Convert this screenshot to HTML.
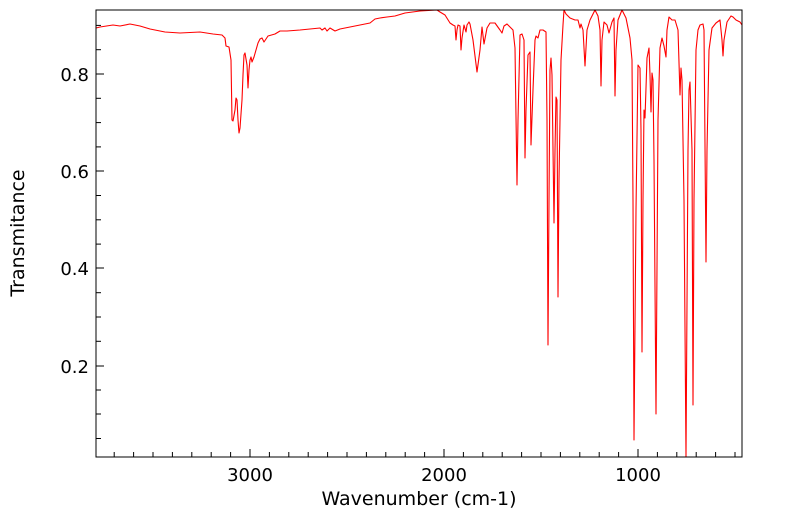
<!DOCTYPE html>
<html><head><meta charset="utf-8"><style>
body{margin:0;background:#fff;}
svg{display:block;font-family:"DejaVu Sans","Liberation Sans",sans-serif;}
</style></head><body>
<svg width="799" height="516" xmlns="http://www.w3.org/2000/svg">
<rect x="0" y="0" width="799" height="516" fill="#fff"/>
<polyline fill="none" stroke="#ff0000" stroke-width="1.1" stroke-linejoin="round" points="96,28 100,27 113,25 120,26 130,24 140,26 150,29 165,32 180,33 200,32 213,34 222,35 225,38 226,46 229,47 231,60 232,120 233,121 235,110 236,98 237,100 238,120 239,133 240,128 242,100 243,75 244,55 245,53 247,65 248,88 249,70 250,60 251,57 252,62 254,57 256,50 258,43 260,39 262,38 264,42 268,36 275,34 280,31 287,31 300,30 320,28 322,30 325,28 327,31 330,28 335,31 340,29 360,25 370,23 375,19 380,18 387,17 395,16 405,13 420,11 437,10 440,12 445,15 450,23 453,25 455,26 456,40 457,30 458,25 460,26 461,50 462,38 464,25 466,32 467,25 469,22 470,24 473,40 477,72 480,50 482,27 484,44 487,28 490,23 495,23 500,30 502,33 504,26 507,24 510,27 513,30 515,48 517,185 518,120 520,35 522,34 524,40 525,158 526,110 528,55 530,52 531,145 533,90 535,40 536,36 538,38 540,30 543,30 546,32 547,120 548,345 549,200 550,70 551,58 552,75 554,223 555,150 556,97 557,100 558,297 559,180 561,60 563,25 564,10 566,14 570,18 575,20 578,20 580,28 581,24 583,30 585,66 587,30 590,20 595,10 598,16 600,30 601,86 602,40 604,22 607,25 609,33 612,22 614,18 615,96 616,50 618,20 622,10 626,18 628,28 630,38 632,60 633,200 634,440 636,210 638,65 640,68 641,130 642,352 643,200 644,110 645,118 647,58 649,48 650,75 651,112 652,73 653,80 654,160 656,414 658,120 660,48 662,38 664,46 666,57 667,30 669,17 672,20 675,20 678,30 680,95 681,68 682,80 684,200 686,457 688,150 689,90 690,82 692,150 693,405 694,200 696,50 698,30 700,25 703,24 704,30 706,262 707,150 709,50 712,28 716,23 720,20 722,40 723,56 724,40 727,22 731,16 733,17 736,20 740,22 742,25"/>
<rect x="96" y="10" width="646" height="447" fill="none" stroke="#000" stroke-width="1"/>
<g stroke="#000" stroke-width="1">
<line x1="96" y1="74" x2="104" y2="74"/><line x1="96" y1="171" x2="104" y2="171"/><line x1="96" y1="268" x2="104" y2="268"/><line x1="96" y1="366" x2="104" y2="366"/>
<line x1="96" y1="25.4" x2="101" y2="25.4"/><line x1="96" y1="49.7" x2="101" y2="49.7"/><line x1="96" y1="98.3" x2="101" y2="98.3"/><line x1="96" y1="122.6" x2="101" y2="122.6"/><line x1="96" y1="146.9" x2="101" y2="146.9"/><line x1="96" y1="195.5" x2="101" y2="195.5"/><line x1="96" y1="219.8" x2="101" y2="219.8"/><line x1="96" y1="244.1" x2="101" y2="244.1"/><line x1="96" y1="292.7" x2="101" y2="292.7"/><line x1="96" y1="317" x2="101" y2="317"/><line x1="96" y1="341.3" x2="101" y2="341.3"/><line x1="96" y1="390" x2="101" y2="390"/><line x1="96" y1="414" x2="101" y2="414"/><line x1="96" y1="438.5" x2="101" y2="438.5"/>
<line x1="250" y1="457" x2="250" y2="449"/><line x1="444" y1="457" x2="444" y2="449"/><line x1="638" y1="457" x2="638" y2="449"/>
<line x1="114.2" y1="457" x2="114.2" y2="452"/><line x1="133.6" y1="457" x2="133.6" y2="452"/><line x1="153" y1="457" x2="153" y2="452"/><line x1="172.4" y1="457" x2="172.4" y2="452"/><line x1="191.8" y1="457" x2="191.8" y2="452"/><line x1="211.2" y1="457" x2="211.2" y2="452"/><line x1="230.6" y1="457" x2="230.6" y2="452"/>
<line x1="269.4" y1="457" x2="269.4" y2="452"/><line x1="288.8" y1="457" x2="288.8" y2="452"/><line x1="308.2" y1="457" x2="308.2" y2="452"/><line x1="327.6" y1="457" x2="327.6" y2="452"/><line x1="347" y1="457" x2="347" y2="452"/><line x1="366.4" y1="457" x2="366.4" y2="452"/><line x1="385.8" y1="457" x2="385.8" y2="452"/><line x1="405.2" y1="457" x2="405.2" y2="452"/><line x1="424.6" y1="457" x2="424.6" y2="452"/>
<line x1="463.4" y1="457" x2="463.4" y2="452"/><line x1="482.8" y1="457" x2="482.8" y2="452"/><line x1="502.2" y1="457" x2="502.2" y2="452"/><line x1="521.6" y1="457" x2="521.6" y2="452"/><line x1="541" y1="457" x2="541" y2="452"/><line x1="560.4" y1="457" x2="560.4" y2="452"/><line x1="579.8" y1="457" x2="579.8" y2="452"/><line x1="599.2" y1="457" x2="599.2" y2="452"/><line x1="618.6" y1="457" x2="618.6" y2="452"/>
<line x1="657.4" y1="457" x2="657.4" y2="452"/><line x1="676.8" y1="457" x2="676.8" y2="452"/><line x1="696.2" y1="457" x2="696.2" y2="452"/><line x1="715.6" y1="457" x2="715.6" y2="452"/><line x1="735" y1="457" x2="735" y2="452"/>
</g>
<g font-size="18" fill="#000" text-anchor="end">
<text x="89" y="81">0.8</text><text x="89" y="178">0.6</text><text x="89" y="275">0.4</text><text x="89" y="373">0.2</text>
</g>
<g font-size="18" fill="#000" text-anchor="middle">
<text x="250" y="481">3000</text><text x="444" y="481">2000</text><text x="638" y="481">1000</text>
</g>
<g font-size="19" fill="#000" text-anchor="middle">
<text x="419" y="505">Wavenumber (cm-1)</text>
<text transform="translate(24,233) rotate(-90)">Transmitance</text>
</g>
</svg>
</body></html>
